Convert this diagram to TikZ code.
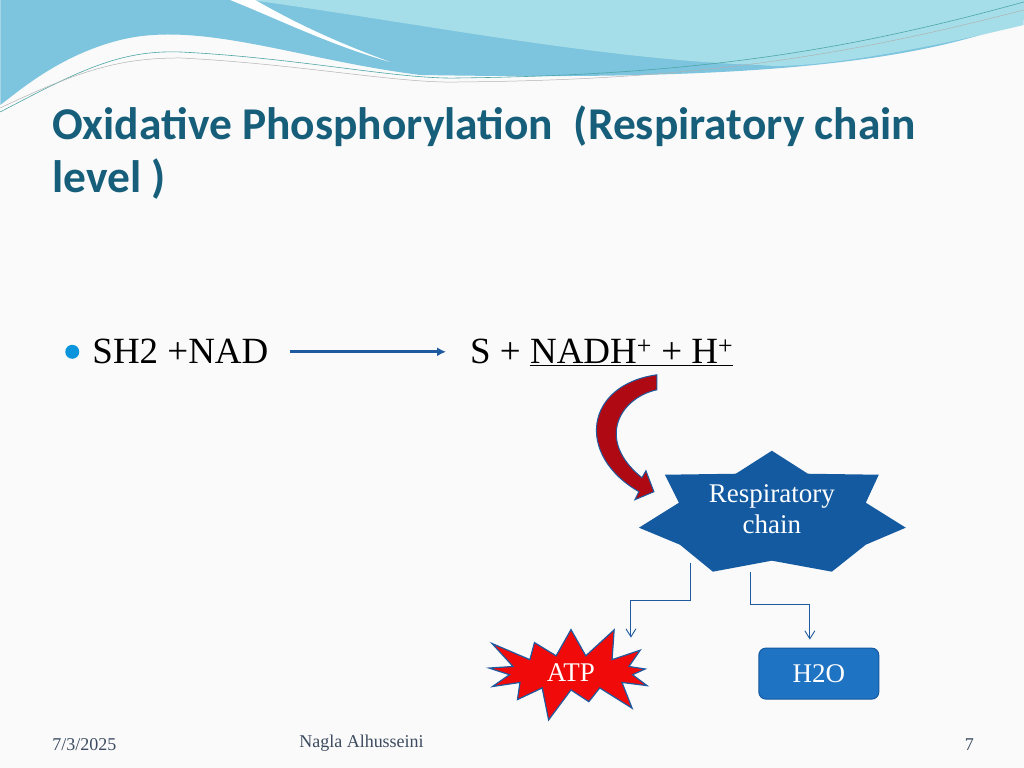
\documentclass[tikz,border=0pt]{standalone}
\usepackage{fontspec}
\setmainfont{Liberation Serif}
\newfontfamily\titlefont{Carlito}
\usetikzlibrary{shapes.symbols, arrows.meta}
\definecolor{waveBlue}{RGB}{125, 196, 222}
\definecolor{waveCyan}{RGB}{165, 222, 232}
\definecolor{titleTeal}{RGB}{23, 94, 122}
\definecolor{chainBlue}{RGB}{20, 90, 160}
\definecolor{boxBlue}{RGB}{30, 115, 195}
\definecolor{atpRed}{RGB}{240, 10, 10}
\definecolor{arrowRed}{RGB}{175, 10, 20}
\definecolor{footGrey}{RGB}{60, 75, 95}
\definecolor{lineBlue}{RGB}{30, 90, 160}

\begin{document}
\begin{tikzpicture} [
        x=1pt, y=-1pt,
        title/.style={font=\titlefont\bfseries\fontsize{45.5}{50}\selectfont, text=titleTeal, anchor=base west, inner sep=0pt},
        body/.style={font=\fontsize{37}{40}\selectfont, anchor=base west, inner sep=0pt},
        foot/.style={font=\fontsize{18}{20}\selectfont, text=footGrey, anchor=base west, inner sep=0pt},
        shape text/.style={text=white, font=\fontsize{27}{31}\selectfont},
        elbow/.style={draw=lineBlue, line width=0.9pt, -{Straight Barb[length=8pt, width=10pt]}}
    ]

    % background and top wave
    \fill[gray!4] (0,0) rectangle (1024,768);
    \fill[waveBlue] (0,0) -- (1024,0) -- (1024,20) .. controls (900,70) and (700,80) .. (420,75)
        .. controls (300,60) and (200,20) .. (120,40) .. controls (60,55) and (20,90) .. (0,105) -- cycle;
    \fill[waveCyan] (250,0) -- (1024,0) -- (1024,25) .. controls (900,55) and (800,70) .. (760,65)
        .. controls (600,60) and (400,20) .. (250,0) -- cycle;
    \fill[white] (230,0) .. controls (280,20) and (330,45) .. (390,62) .. controls (330,40) and (290,20) .. (255,0) -- cycle;
    \draw[teal!70, line width=0.6pt] (0,112) .. controls (80,70) and (120,50) .. (180,52)
        .. controls (300,58) and (400,80) .. (460,78) .. controls (700,75) and (850,50) .. (1024,2);
    \draw[gray!60, line width=0.5pt] (0,108) .. controls (80,70) and (120,58) .. (180,58)
        .. controls (300,64) and (400,84) .. (460,82) .. controls (700,80) and (850,55) .. (1024,10);

    % title
    \node[title] (title1) at (52,140) {Oxidative Phosphorylation\ \ (Respiratory chain};
    \node[title] (title2) at (52,193) {level )};

    % reaction
    \fill[cyan!80!blue] (72,352) circle (7);
    \node[body] (left) at (92,364) {SH\oldstylenums{2} +NAD};
    \node[body] (right) at (470,364) {S + \underline{NADH\textsuperscript{+} + H\textsuperscript{+}}};
    \coordinate (arrow start) at (290,352);
    \coordinate (arrow end) at (446,352);
    \draw[lineBlue, line width=3pt, -{Latex[length=9pt, width=9pt]}] (arrow start) -- (arrow end);

    % curved red arrow
    \filldraw[fill=arrowRed, draw=lineBlue, line width=1pt]
        (657,375) -- (657,390) .. controls (620,398) and (595,440) .. (642,478)
        -- (646,471) -- (654,492) -- (635,500) -- (639,492)
        .. controls (575,455) and (585,385) .. (657,375) -- cycle;

    % respiratory chain star
    \fill[chainBlue] (772,451) -- (808,474) -- (879,475) -- (866,503) -- (906,528) -- (866,545)
        -- (832,572) -- (772,561) -- (713,572) -- (680,545) -- (639,528) -- (679,503)
        -- (665,475) -- (736,474) -- cycle;
    \node[shape text, align=center] (chain) at (772,509) {Respiratory\\chain};

    % products
    \node[starburst, starburst points=13, starburst point height=36pt, fill=atpRed, draw=lineBlue,
        line width=1.2pt, minimum width=196pt, minimum height=70pt, shape text] (atp) at (571,673) {ATP};
    \node[rounded corners=7pt, fill=boxBlue, draw=chainBlue, line width=1pt, minimum width=120pt,
        minimum height=51pt, shape text] (water) at (819,674) {H\oldstylenums{2}O};

    \coordinate (atp out) at (691,563);
    \coordinate (water out) at (751,572);
    \draw[elbow] (atp out) -- (691,601) -- (631,601) -- (631,638);
    \draw[elbow] (water out) -- (751,605) -- (810,605) -- (810,640);

    % footer
    \node[foot] (date) at (52,751) {7/3/2025};
    \node[foot] (author) at (299,748) {Nagla Alhusseini};
    \node[foot] (page) at (965,751) {7};
    \useasboundingbox (0,0) rectangle (1024,768);
\end{tikzpicture}
\end{document}
